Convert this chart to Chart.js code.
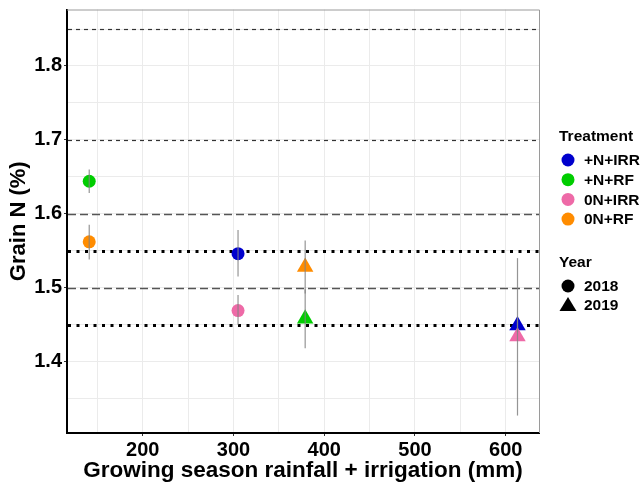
<!DOCTYPE html>
<html>
<head>
<meta charset="utf-8">
<script src="https://cdn.jsdelivr.net/npm/chart.js@4/dist/chart.umd.min.js"></script>
<style>
  html, body { margin: 0; padding: 0; background: #fff; }
  #wrap { width: 644px; height: 486px; }
</style>
</head>
<body>
<div id="wrap"><canvas id="grainN" width="644" height="486"></canvas></div>
<script>
// treatments and their colours
var treatments = ['+N+IRR', '+N+RF', '0N+IRR', '0N+RF'];
var treatmentColors = ['#0000CD', '#00CD00', '#EE6AA7', '#FF8C00'];
var years = ['2018', '2019'];

// growing season rainfall + irrigation (mm), per treatment
var rain2018 = [305, 141, 305, 141];
var rain2019 = [613, 379, 613, 379];

// grain N (%) means and error bar ends, per treatment
var grainN2018 = [1.546, 1.644, 1.469, 1.562];
var low2018 = [1.515, 1.628, 1.450, 1.538];
var high2018 = [1.578, 1.660, 1.490, 1.585];

var grainN2019 = [1.449, 1.458, 1.434, 1.528];
var low2019 = [1.440, 1.418, 1.327, 1.492];
var high2019 = [1.458, 1.498, 1.540, 1.564];

// horizontal reference levels
var shortDashLevels = [1.85, 1.7];
var longDashLevels = [1.6, 1.5];
var dottedLevels = [1.55, 1.45];

// axis ticks (minor ticks get a grid line but no label)
var xTicks = [150, 200, 250, 300, 350, 400, 450, 500, 550, 600];
var xLabelled = [200, 300, 400, 500, 600];
var yTicks = [1.35, 1.4, 1.45, 1.5, 1.55, 1.6, 1.65, 1.7, 1.75, 1.8, 1.85];
var yLabelled = [1.4, 1.5, 1.6, 1.7, 1.8];

var toPoints = function(xs, ys) {
    var pts = [];
    for (var i = 0; i < xs.length; i++) {
        pts.push({x: xs[i], y: ys[i]});
    }
    return pts;
};

var isLabelled = function(list, v) {
    for (var i = 0; i < list.length; i++) {
        if (Math.abs(list[i] - v) < 1e-6) return true;
    }
    return false;
};

var boldFont = function(size) {
    return {family: '"Liberation Sans", Arial, sans-serif', size: size, weight: 'bold'};
};

var refLines = {
    id: 'refLines',
    beforeDatasetsDraw: function(chart) {
        var ctx = chart.ctx;
        var area = chart.chartArea;
        var y = chart.scales.y;
        ctx.save();
        // top and right panel edges
        ctx.strokeStyle = '#9a9a9a';
        ctx.lineWidth = 1;
        ctx.beginPath();
        ctx.moveTo(area.left, area.top + 0.5);
        ctx.lineTo(area.right + 0.5, area.top + 0.5);
        ctx.lineTo(area.right + 0.5, area.bottom);
        ctx.stroke();

        var drawLevel = function(level, color, width, dash) {
            var py = Math.round(y.getPixelForValue(level)) + 0.5;
            ctx.strokeStyle = color;
            ctx.lineWidth = width;
            ctx.setLineDash(dash);
            ctx.beginPath();
            ctx.moveTo(area.left + 1, py);
            ctx.lineTo(area.right, py);
            ctx.stroke();
        };
        shortDashLevels.forEach(function(l) { drawLevel(l, '#333333', 1.2, [4, 4]); });
        longDashLevels.forEach(function(l) { drawLevel(l, '#555555', 1.6, [8, 4]); });
        dottedLevels.forEach(function(l) { drawLevel(l, '#000000', 3, [3, 5.5]); });
        ctx.restore();
    }
};

var errorBars = {
    id: 'errorBars',
    afterDatasetsDraw: function(chart) {
        var ctx = chart.ctx;
        var xs = chart.scales.x, ys = chart.scales.y;
        var sets = [[rain2018, low2018, high2018], [rain2019, low2019, high2019]];
        ctx.save();
        ctx.strokeStyle = 'rgba(130,130,130,0.85)';
        ctx.lineWidth = 1.2;
        sets.forEach(function(s) {
            for (var i = 0; i < s[0].length; i++) {
                var px = xs.getPixelForValue(s[0][i]);
                ctx.beginPath();
                ctx.moveTo(px, ys.getPixelForValue(s[1][i]));
                ctx.lineTo(px, ys.getPixelForValue(s[2][i]));
                ctx.stroke();
            }
        });
        ctx.restore();
    }
};

var sideLegend = {
    id: 'sideLegend',
    afterDraw: function(chart) {
        var ctx = chart.ctx;
        var x0 = 559, markX = 568, textX = 584;
        ctx.save();
        ctx.fillStyle = '#000';
        ctx.textBaseline = 'middle';
        ctx.textAlign = 'left';
        ctx.font = 'bold 15.5px "Liberation Sans", Arial, sans-serif';
        ctx.fillText('Treatment', x0, 137);
        for (var i = 0; i < treatments.length; i++) {
            var cy = 160 + i * 19.7;
            ctx.fillStyle = treatmentColors[i];
            ctx.beginPath();
            ctx.arc(markX, cy, 6.5, 0, Math.PI * 2);
            ctx.fill();
            ctx.fillStyle = '#000';
            ctx.fillText(treatments[i], textX, cy + 1);
        }
        ctx.fillText('Year', x0, 263);
        // 2018 circle
        ctx.beginPath();
        ctx.arc(markX, 286, 6.5, 0, Math.PI * 2);
        ctx.fill();
        ctx.fillText(years[0], textX, 287);
        // 2019 triangle
        ctx.beginPath();
        ctx.moveTo(markX, 297);
        ctx.lineTo(markX + 8.5, 311);
        ctx.lineTo(markX - 8.5, 311);
        ctx.closePath();
        ctx.fill();
        ctx.fillText(years[1], textX, 306);
        ctx.restore();
    }
};

var canvas = document.getElementById('grainN');
var chart = new Chart(canvas.getContext('2d'), {
    type: 'scatter',
    data: {
        datasets: [{
            label: years[0],
            data: toPoints(rain2018, grainN2018),
            pointStyle: 'circle',
            pointRadius: 6.5,
            borderWidth: 0,
            backgroundColor: treatmentColors
        }, {
            label: years[1],
            data: toPoints(rain2019, grainN2019),
            pointStyle: 'triangle',
            pointRadius: 9.5,
            borderWidth: 0,
            backgroundColor: treatmentColors
        }]
    },
    options: {
        responsive: false,
        animation: false,
        events: [],
        layout: {padding: {left: 0, right: 105, top: 9, bottom: 0}},
        plugins: {legend: {display: false}, tooltip: {enabled: false}},
        scales: {
            x: {
                type: 'linear',
                min: 116.5,
                max: 636.7,
                afterBuildTicks: function(scale) {
                    scale.ticks = xTicks.map(function(v) { return {value: v}; });
                },
                afterFit: function(scale) {
                    scale.height = 53;
                    scale.paddingLeft = 0;
                    scale.paddingRight = 0;
                },
                border: {color: '#000', width: 2},
                grid: {
                    color: '#ebebeb',
                    lineWidth: 1,
                    tickLength: 3,
                    tickColor: function(c) {
                        return c.tick && isLabelled(xLabelled, c.tick.value) ? '#333' : 'rgba(0,0,0,0)';
                    }
                },
                ticks: {
                    autoSkip: false,
                    maxRotation: 0,
                    padding: 2,
                    color: '#000',
                    font: boldFont(20),
                    callback: function(v) { return isLabelled(xLabelled, v) ? String(v) : ''; }
                },
                title: {
                    display: true,
                    text: 'Growing season rainfall + irrigation (mm)',
                    color: '#000',
                    font: boldFont(22.5),
                    padding: {top: 0, bottom: 2}
                }
            },
            y: {
                type: 'linear',
                min: 1.3034,
                max: 1.8764,
                afterBuildTicks: function(scale) {
                    scale.ticks = yTicks.map(function(v) { return {value: v}; });
                },
                afterFit: function(scale) {
                    scale.width = 67;
                    scale.paddingTop = 0;
                    scale.paddingBottom = 0;
                },
                border: {color: '#000', width: 2},
                grid: {
                    color: '#ebebeb',
                    lineWidth: 1,
                    tickLength: 3,
                    tickColor: function(c) {
                        return c.tick && isLabelled(yLabelled, c.tick.value) ? '#333' : 'rgba(0,0,0,0)';
                    }
                },
                ticks: {
                    autoSkip: false,
                    padding: 2,
                    color: '#000',
                    font: boldFont(20),
                    callback: function(v) { return isLabelled(yLabelled, v) ? v.toFixed(1) : ''; }
                },
                title: {
                    display: true,
                    text: 'Grain N (%)',
                    color: '#000',
                    font: boldFont(22),
                    padding: {top: 6, bottom: 0}
                }
            }
        }
    },
    plugins: [refLines, errorBars, sideLegend]
});
</script>
</body>
</html>
